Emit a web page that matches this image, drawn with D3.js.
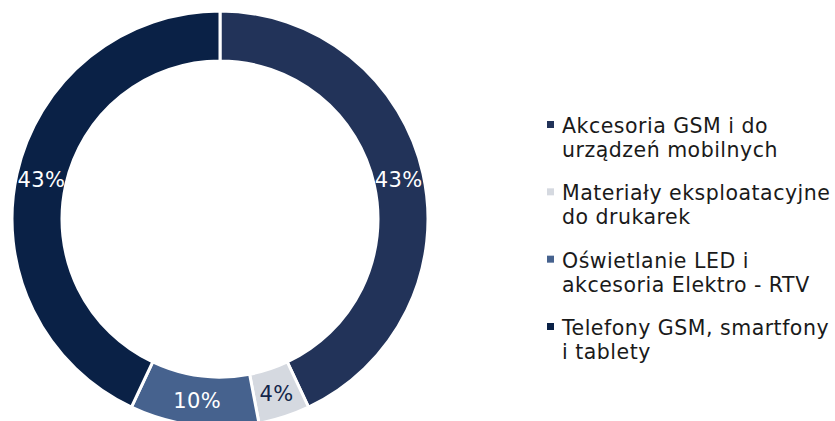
<!DOCTYPE html>
<html><head><meta charset="utf-8">
<script src="https://cdn.jsdelivr.net/npm/d3@7"></script>
<style>html,body{margin:0;padding:0;background:#fff;overflow:hidden}</style>
</head><body>
<svg id="chart" width="835" height="421"></svg>
<script>
const categories = ["Akcesoria GSM i do urządzeń mobilnych", "Materiały eksploatacyjne do drukarek", "Oświetlanie LED i akcesoria Elektro - RTV", "Telefony GSM, smartfony i tablety"];
const legendLines = [["Akcesoria GSM i do", "urządzeń mobilnych"], ["Materiały eksploatacyjne", "do drukarek"], ["Oświetlanie LED i", "akcesoria Elektro - RTV"], ["Telefony GSM, smartfony", "i tablety"]];
const values = [43, 4, 10, 43];
const colors = ["#223359", "#d5d9e0", "#46628e", "#0a2146"];
const labelColors = ["#ffffff", "#13264a", "#ffffff", "#ffffff"];

const svg = d3.select("#chart");
const cx = 220, cy = 219, outerR = 208, innerR = 158;
const g = svg.append("g").attr("transform", `translate(${cx},${cy})`);
const pie = d3.pie().sort(null).value(d => d);
const arcs = pie(values);
const arc = d3.arc().innerRadius(innerR).outerRadius(outerR);
const labelArc = d3.arc().innerRadius(183).outerRadius(183);

g.selectAll("path").data(arcs).join("path")
  .attr("d", arc)
  .attr("fill", (d, i) => colors[i])
  .attr("stroke", "#fff").attr("stroke-width", 3);

const total = d3.sum(values);
g.selectAll("text.lbl").data(arcs).join("text")
  .attr("class", "lbl")
  .attr("transform", d => `translate(${labelArc.centroid(d)})`)
  .attr("text-anchor", "middle").attr("dy", "0.36em")
  .attr("font-family", "DejaVu Sans, Verdana, sans-serif")
  .attr("font-size", 21)
  .attr("letter-spacing", 0.4)
  .attr("fill", (d, i) => labelColors[i])
  .text(d => d3.format(".0%")(d.value / total));

const legend = svg.append("g");
const itemY = d3.scalePoint().domain(d3.range(categories.length)).range([133, 335]);
const items = legend.selectAll("g").data(categories).join("g")
  .attr("transform", (d, i) => `translate(0,${itemY(i)})`);
items.append("rect").attr("x", 547).attr("y", -12).attr("width", 7).attr("height", 7)
  .attr("fill", (d, i) => colors[i]);
items.append("text")
  .attr("x", 562).attr("y", 0)
  .attr("font-family", "DejaVu Sans, Verdana, sans-serif")
  .attr("font-size", 20.5)
  .attr("letter-spacing", 0.5)
  .attr("fill", "#1a1a1a")
  .selectAll("tspan").data((d, i) => legendLines[i]).join("tspan")
  .attr("x", 562).attr("dy", (d, j) => j === 0 ? 0 : 24)
  .text(d => d);
</script>
</body></html>
